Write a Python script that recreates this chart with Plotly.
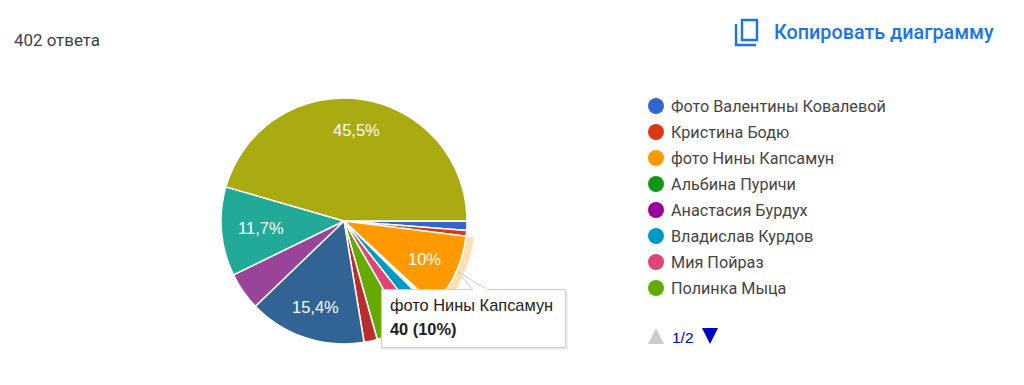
import math
import plotly.graph_objects as go

W, H = 1024, 385

slice_names = ["Фото Валентины Ковалевой", "Кристина Бодю", "фото Нины Капсамун", "Альбина Пуричи",
               "Анастасия Бурдух", "Владислав Курдов", "Мия Пойраз", "Полинка Мыца",
               "Другой вариант 9", "Другой вариант 10", "Другой вариант 11", "Другой вариант 12", "Другой вариант 13"]
slice_counts = [5, 3, 40, 1, 1, 8, 9, 16, 7, 62, 20, 47, 183]
slice_colors = ["#3366cc", "#dc3912", "#ff9900", "#109618", "#990099", "#0099c6", "#dd4477", "#66aa00",
                "#b82e2e", "#316395", "#994499", "#22aa99", "#aaaa11"]
slice_labels = ["", "", "10%", "", "", "", "", "", "", "15,4%", "", "11,7%", "45,5%"]
label_radius = [0, 0, 0.72, 0, 0, 0, 0, 0, 0, 0.74, 0, 0.68, 0.75]
legend_names = slice_names[:8]
legend_colors = slice_colors[:8]

CX, CY, R, R_HI = 344, 221, 123, 131


def dom(r):
    return dict(x=[(CX - r) / W, (CX + r) / W], y=[(H - CY - r) / H, (H - CY + r) / H])


fig = go.Figure()

# highlight ring round the hovered slice
fig.add_trace(go.Pie(
    values=slice_counts, labels=slice_names, sort=False, direction="clockwise", rotation=90,
    domain=dom(R_HI), hole=R / R_HI, textinfo="none", hoverinfo="skip", showlegend=False,
    marker=dict(colors=["rgba(255,153,0,0.3)" if c == "#ff9900" else "rgba(0,0,0,0)" for c in slice_colors],
                line=dict(width=0)),
))
fig.add_trace(go.Pie(
    values=slice_counts, labels=slice_names, sort=False, direction="clockwise", rotation=90,
    domain=dom(R), textinfo="none", showlegend=False, hoverinfo="skip",
    marker=dict(colors=slice_colors, line=dict(color="#ffffff", width=1.5)),
))

# legend dots
LEG_X, LEG_Y, LEG_STEP = 656, 106, 26
fig.add_trace(go.Scatter(
    x=[LEG_X] * len(legend_names), y=[LEG_Y + i * LEG_STEP for i in range(len(legend_names))],
    mode="markers", marker=dict(size=16, color=legend_colors), hoverinfo="skip", showlegend=False,
))

shapes = [
    # tooltip shadow, box and pointer
    dict(type="rect", x0=383, y0=291, x1=568, y1=350, line_width=0, fillcolor="rgba(0,0,0,0.07)"),
    dict(type="rect", x0=381.5, y0=289.5, x1=565.5, y1=347.5, fillcolor="#ffffff",
         line=dict(color="#cccccc", width=1)),
    dict(type="path", path="M 473 290 L 458 272 L 488 290", fillcolor="#ffffff",
         line=dict(color="#cccccc", width=1)),
    dict(type="line", x0=474, y0=289.5, x1=487, y1=289.5, line=dict(color="#ffffff", width=2)),
    # copy icon
    dict(type="rect", x0=742, y0=20, x1=757, y1=40, line=dict(color="#1a73e8", width=2.4)),
    dict(type="path", path="M 736 24 L 736 45 L 756 45", line=dict(color="#1a73e8", width=2.4)),
    # pager triangles
    dict(type="path", path="M 648 344 L 656 328 L 664 344 Z", fillcolor="#cccccc", line_width=0),
    dict(type="path", path="M 702 328 L 710 344 L 718 328 Z", fillcolor="#0000cc", line_width=0),
]

annotations = [
    dict(x=13, y=40, text="402 ответа", font=dict(family="Roboto", size=16.9, color="#3c4043")),
    dict(x=773, y=32, text="Копировать диаграмму", font=dict(family="Roboto", size=19.8, color="#1a73e8", weight=500)),
    dict(x=389, y=305, text="фото Нины Капсамун", font=dict(family="Liberation Sans", size=16.4, color="#222222")),
    dict(x=389, y=329, text="<b>40 (10%)</b>", font=dict(family="Liberation Sans", size=16.4, color="#222222")),
    dict(x=671, y=337, text="1/2", font=dict(family="Liberation Sans", size=15.5, color="#0000cc")),
]
for i, name in enumerate(legend_names):
    annotations.append(dict(x=670, y=LEG_Y + i * LEG_STEP, text=name,
                            font=dict(family="Roboto", size=16.2, color="#444444")))
for a in annotations:
    a.update(xanchor="left")

# percentage labels, placed from the slice counts
total = sum(slice_counts)
cum = 0
for count, label, fr in zip(slice_counts, slice_labels, label_radius):
    mid = (cum + count / 2) / total * 2 * math.pi
    cum += count
    if label:
        annotations.append(dict(x=CX + fr * R * math.cos(mid), y=CY + fr * R * math.sin(mid), text=label,
                                xanchor="center",
                                font=dict(family="Liberation Sans", size=16.5, color="#ffffff")))

for a in annotations:
    a.update(xref="x", yref="y", showarrow=False, yanchor="middle", borderpad=0)

fig.update_layout(
    width=W, height=H, margin=dict(l=0, r=0, t=0, b=0),
    paper_bgcolor="#ffffff", plot_bgcolor="rgba(0,0,0,0)",
    xaxis=dict(range=[0, W], visible=False, fixedrange=True),
    yaxis=dict(range=[H, 0], visible=False, fixedrange=True),
    shapes=shapes, annotations=annotations,
)
fig.write_html("out.html", config=dict(displayModeBar=False),
               post_script="document.body.style.margin='0';document.documentElement.style.overflow='hidden';")
